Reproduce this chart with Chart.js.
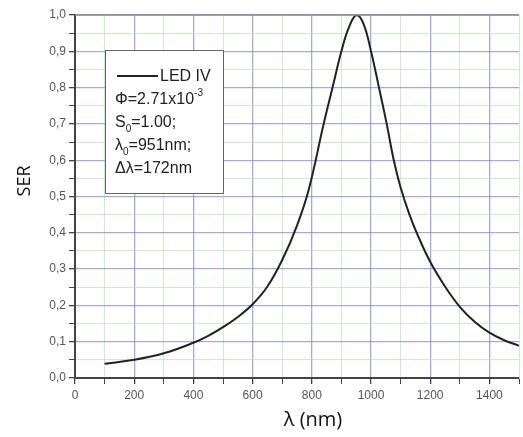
<!DOCTYPE html>
<html>
<head>
<meta charset="utf-8">
<script src="https://cdn.jsdelivr.net/npm/chart.js@4/dist/chart.umd.min.js"></script>
<style>
  html, body { margin: 0; padding: 0; background: #fff; }
  #wrap { width: 523px; height: 437px; }
</style>
</head>
<body>
<div id="wrap"><canvas id="serChart" width="523" height="437"></canvas></div>
<script>
// wavelength (nm) and SER
const wavelength = [100, 200, 300, 400, 450, 500, 550, 600, 650, 700, 750, 790, 840, 870, 900, 925, 951, 975, 1000, 1027, 1053, 1077, 1100, 1130, 1157, 1200, 1250, 1300, 1350, 1400, 1450, 1500];
const serValues  = [0.039, 0.050, 0.068, 0.097, 0.116, 0.14, 0.168, 0.203, 0.252, 0.325, 0.42, 0.52, 0.70, 0.80, 0.90, 0.965, 1.0, 0.975, 0.90, 0.80, 0.70, 0.60, 0.525, 0.45, 0.395, 0.32, 0.252, 0.196, 0.155, 0.125, 0.104, 0.089];

const xMajorTicks = [0, 200, 400, 600, 800, 1000, 1200, 1400];
const yMajorTicks = ['0,0', '0,1', '0,2', '0,3', '0,4', '0,5', '0,6', '0,7', '0,8', '0,9', '1,0'];

const legendLines = [
    { main: 'Φ=2.71x10', sup: '-3' },
    { main: 'S', sub: '0', rest: '=1.00;' },
    { main: 'λ', sub: '0', rest: '=951nm;' },
    { main: 'Δλ=172nm' }
];

const points = wavelength.map((x, i) => ({ x, y: serValues[i] }));

const isMajorX = (v) => Math.round(v) % 200 === 0;
const isMajorY = (v) => Math.round(v * 100) % 10 === 0;

// frame, titles and the inset legend box
const decorPlugin = {
    id: 'decor',
    afterDraw(chart) {
        const { ctx, chartArea: a } = chart;
        ctx.save();
        // top frame line
        ctx.strokeStyle = '#8a8a8a';
        ctx.lineWidth = 1.5;
        ctx.beginPath();
        ctx.moveTo(a.left, a.top);
        ctx.lineTo(a.right, a.top);
        ctx.stroke();

        // axis titles
        ctx.fillStyle = '#111';
        ctx.font = '20px "Open Sans", sans-serif';
        ctx.textAlign = 'center';
        ctx.textBaseline = 'middle';
        ctx.fillText('λ (nm)', 313, 420);
        ctx.save();
        ctx.translate(25, 181);
        ctx.rotate(-Math.PI / 2);
        ctx.font = '18px "Open Sans", sans-serif';
        ctx.fillText('SER', 0, 0);
        ctx.restore();

        // legend box
        const bx = 105, by = 50, bw = 118, bh = 143;
        ctx.fillStyle = '#fff';
        ctx.fillRect(bx, by, bw, bh);
        ctx.strokeStyle = '#666';
        ctx.lineWidth = 1;
        ctx.strokeRect(bx + 0.5, by + 0.5, bw, bh);

        ctx.strokeStyle = '#222';
        ctx.lineWidth = 2;
        ctx.beginPath();
        ctx.moveTo(117, 76);
        ctx.lineTo(158, 76);
        ctx.stroke();

        ctx.fillStyle = '#222';
        ctx.textAlign = 'left';
        ctx.font = '16px Arial, "Liberation Sans", sans-serif';
        ctx.fillText('LED IV', 160, 77);

        let y = 100;
        legendLines.forEach((ln) => {
            let x = 115;
            ctx.font = '16px Arial, "Liberation Sans", sans-serif';
            ctx.fillText(ln.main, x, y);
            x += ctx.measureText(ln.main).width;
            if (ln.sup) {
                ctx.font = '10px Arial, "Liberation Sans", sans-serif';
                ctx.fillText(ln.sup, x, y - 7);
            }
            if (ln.sub) {
                ctx.font = '10px Arial, "Liberation Sans", sans-serif';
                ctx.fillText(ln.sub, x, y + 6);
                x += ctx.measureText(ln.sub).width;
                ctx.font = '16px Arial, "Liberation Sans", sans-serif';
                ctx.fillText(ln.rest, x, y);
            }
            y += 23;
        });
        ctx.restore();
    }
};

new Chart(document.getElementById('serChart').getContext('2d'), {
    type: 'scatter',
    data: {
        datasets: [{
            label: 'LED IV',
            data: points,
            showLine: true,
            borderColor: '#222',
            borderWidth: 2,
            pointRadius: 0,
            tension: 0.4,
            fill: false
        }]
    },
    options: {
        responsive: false,
        animation: false,
        layout: { padding: { top: 15, right: 1, left: 0, bottom: 0 } },
        plugins: { legend: { display: false }, tooltip: { enabled: false } },
        scales: {
            x: {
                type: 'linear',
                min: 0,
                max: 1500,
                afterFit: (s) => { s.height = 59; },
                ticks: {
                    stepSize: 100,
                    autoSkip: false,
                    maxRotation: 0,
                    padding: 4,
                    color: '#555',
                    font: { family: 'Arial, "Liberation Sans", sans-serif', size: 12 },
                    callback: (v) => (xMajorTicks.includes(v) ? String(v) : '')
                },
                grid: {
                    color: (c) => (isMajorX(c.tick.value) ? 'rgba(140,140,215,0.75)' : 'rgba(190,225,185,0.7)'),
                    lineWidth: (c) => (isMajorX(c.tick.value) ? 1.3 : 1),
                    tickColor: '#444',
                    tickLength: 6
                },
                border: { color: '#444', width: 2 }
            },
            y: {
                min: 0,
                max: 1.0,
                afterFit: (s) => { s.width = 75; },
                ticks: {
                    stepSize: 0.05,
                    autoSkip: false,
                    padding: 3,
                    color: '#555',
                    font: { family: 'Arial, "Liberation Sans", sans-serif', size: 12 },
                    callback: (v) => (isMajorY(v) ? yMajorTicks[Math.round(v * 10)] : '')
                },
                grid: {
                    color: (c) => (isMajorY(c.tick.value) ? 'rgba(140,140,215,0.75)' : 'rgba(190,225,185,0.7)'),
                    lineWidth: (c) => (isMajorY(c.tick.value) ? 1.3 : 1),
                    tickColor: '#444',
                    tickLength: 6
                },
                border: { color: '#444', width: 2 }
            }
        }
    },
    plugins: [decorPlugin]
});
</script>
</body>
</html>
